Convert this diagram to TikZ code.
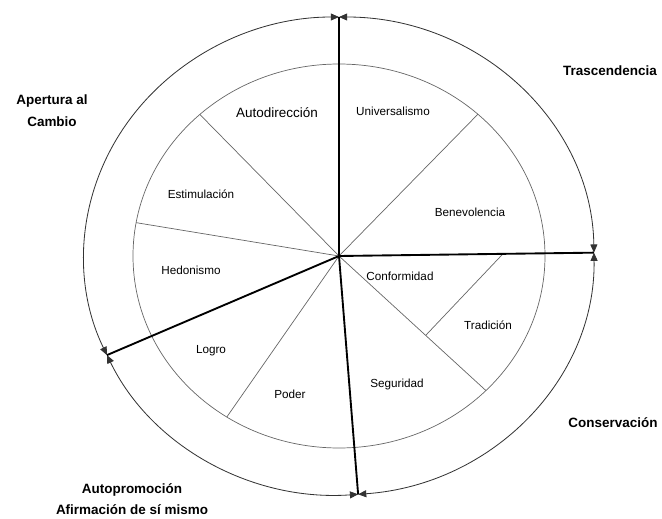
\documentclass[tikz,border=0pt]{standalone}
\usepackage{fontspec}
\setmainfont{Liberation Sans}
\usetikzlibrary{arrows.meta,calc}

\begin{document}
\begin{tikzpicture}[x=0.03cm, y=0.03cm,
		thinline/.style={draw=black!60, line width=0.6pt},
		thickline/.style={line width=1.6pt},
		ring/.style={line width=0.7pt, draw=black!80, {Triangle[length=7pt,width=6pt]}-{Triangle[length=7pt,width=6pt]}},
		value/.style={font=\fontsize{10}{12}\selectfont},
		zone/.style={font=\bfseries\fontsize{11.5}{18.5}\selectfont, align=center}]
	\useasboundingbox (0,0) rectangle (662,518);
	\coordinate (o) at (339,262);
	% ends of the thick lines
	\coordinate (top) at ($(o)+(90:255 and 239)$);
	\coordinate (ll) at ($(o)+(204.5:255 and 239)$);
	\coordinate (bot) at ($(o)+(274.3:255 and 239)$);
	\coordinate (rgt) at ($(o)+(0.8:255 and 239)$);
	% ends of the thin lines
	\coordinate (s1) at ($(o)+(132.5:206 and 192)$);
	\coordinate (s2) at ($(o)+(47.6:206 and 192)$);
	\coordinate (s3) at ($(o)+(170:206 and 192)$);
	\coordinate (s4) at ($(o)+(237:206 and 192)$);
	\coordinate (s5) at ($(o)+(315.5:206 and 192)$);
	\coordinate (t1) at ($(o)!0.59!(s5)$);
	\coordinate (t2) at ($(o)!0.643!(rgt)$);

	\draw[thinline] (o) ellipse [x radius=206, y radius=192];
	\draw[thinline] (o) -- (s1);
	\draw[thinline] (o) -- (s2);
	\draw[thinline] (o) -- (s3);
	\draw[thinline] (o) -- (s4);
	\draw[thinline] (o) -- (s5);
	\draw[thinline] (t1) -- (t2);

	\draw[ring] (top) arc[start angle=90, end angle=204.5, x radius=255, y radius=239];
	\draw[ring] (ll) arc[start angle=204.5, end angle=274.3, x radius=255, y radius=239];
	\draw[ring] (bot) arc[start angle=274.3, end angle=360.8, x radius=255, y radius=239];
	\draw[ring] (rgt) arc[start angle=0.8, end angle=90, x radius=255, y radius=239];

	\draw[thickline] (o) -- (top);
	\draw[thickline] (o) -- (ll);
	\draw[thickline] (o) -- (bot);
	\draw[thickline] (o) -- (rgt);

	\node[value, font=\fontsize{11.5}{14}\selectfont] (auto) at (277,405) {Autodirección};
	\node[value] (univ) at (393,407) {Universalismo};
	\node[value] (estim) at (201,324) {Estimulación};
	\node[value] (benev) at (470,306) {Benevolencia};
	\node[value] (hedon) at (191,248) {Hedonismo};
	\node[value] (confo) at (400,242) {Conformidad};
	\node[value] (tradi) at (488,193) {Tradición};
	\node[value] (logro) at (211,167) {Logro};
	\node[value] (poder) at (290,124) {Poder};
	\node[value] (segur) at (397,134) {Seguridad};

	\node[zone] (apert) at (52,407.5) {Apertura al\\ Cambio};
	\node[zone] (trasc) at (610,447) {Trascendencia};
	\node[zone] (conse) at (613,95) {Conservación};
	\node[zone] (autop) at (132,19) {Autopromoción\\ Afirmación de sí mismo};
\end{tikzpicture}
\end{document}
